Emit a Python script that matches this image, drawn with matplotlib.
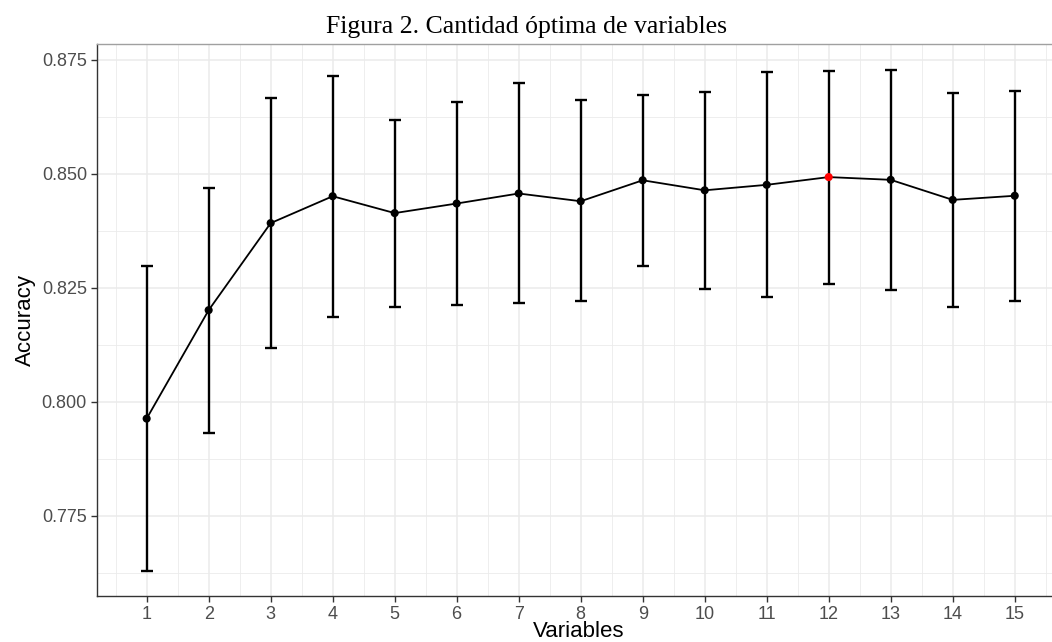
# Accuracy by number of variables, with error bars
import matplotlib.pyplot as plt
import numpy as np

variables = list(range(1, 16))
accuracy = [0.7963, 0.8201, 0.8392, 0.8451, 0.8414, 0.8435, 0.8457, 0.8440,
            0.8486, 0.8464, 0.8476, 0.8493, 0.8487, 0.8443, 0.8452]
acc_upper = [0.8298, 0.8470, 0.8666, 0.8715, 0.8618, 0.8658, 0.8699, 0.8662,
             0.8674, 0.8680, 0.8723, 0.8726, 0.8729, 0.8677, 0.8682]
acc_lower = [0.7629, 0.7932, 0.8117, 0.8187, 0.8207, 0.8212, 0.8217, 0.8220,
             0.8298, 0.8248, 0.8229, 0.8259, 0.8245, 0.8207, 0.8221]
y_ticks = [0.775, 0.800, 0.825, 0.850, 0.875]

plt.rcParams['font.family'] = ['Liberation Sans', 'DejaVu Sans']

fig = plt.figure(figsize=(10.52, 6.42), dpi=100)
ax = fig.add_axes([0.0919, 0.0717, 0.9157, 0.8598])

acc = np.array(accuracy)
yerr = [acc - np.array(acc_lower), np.array(acc_upper) - acc]

# grid like theme_bw
ax.set_axisbelow(True)
ax.set_xticks(variables)
ax.set_xticks(np.arange(0.5, 16, 1.0), minor=True)
ax.set_yticks(y_ticks)
ax.set_yticks(np.arange(0.7625, 0.88, 0.025), minor=True)
ax.grid(which='major', color='#EBEBEB', lw=1.1)
ax.grid(which='minor', color='#EBEBEB', lw=0.6)

ax.errorbar(variables, accuracy, yerr=yerr, fmt='none', ecolor='black',
            elinewidth=1.7, capsize=4.5, capthick=1.7, zorder=2)
ax.plot(variables, accuracy, color='black', lw=1.3, zorder=3)

best = int(np.argmax(acc))
colors = ['red' if i == best else 'black' for i in range(len(accuracy))]
ax.scatter(variables, accuracy, s=34, c=colors, zorder=4, linewidths=0)

ax.set_xlim(0.194, 15.73)
ax.set_ylim(0.75738, 0.87851)

ax.set_xticklabels([str(v) for v in variables])
ax.set_yticklabels(['%.3f' % t for t in y_ticks])
ax.tick_params(which='major', length=4, width=1, color='#333333',
               labelcolor='#4D4D4D', labelsize=13, pad=3)
ax.tick_params(which='minor', length=0)

for side in ['left', 'bottom']:
    ax.spines[side].set_color('#333333')
    ax.spines[side].set_linewidth(1.0)
ax.spines['top'].set_color('#A0A0A0')
ax.spines['top'].set_linewidth(1.0)
ax.spines['right'].set_visible(False)

ax.set_xlabel('Variables', fontsize=16, labelpad=-1)
ax.set_ylabel('Accuracy', fontsize=16, labelpad=4)

fig.text(0.5, 0.958, 'Figura 2. Cantidad óptima de variables',
         family='Liberation Serif', fontsize=18.5, ha='center', va='center')

fig.savefig('out.png', dpi=100)
